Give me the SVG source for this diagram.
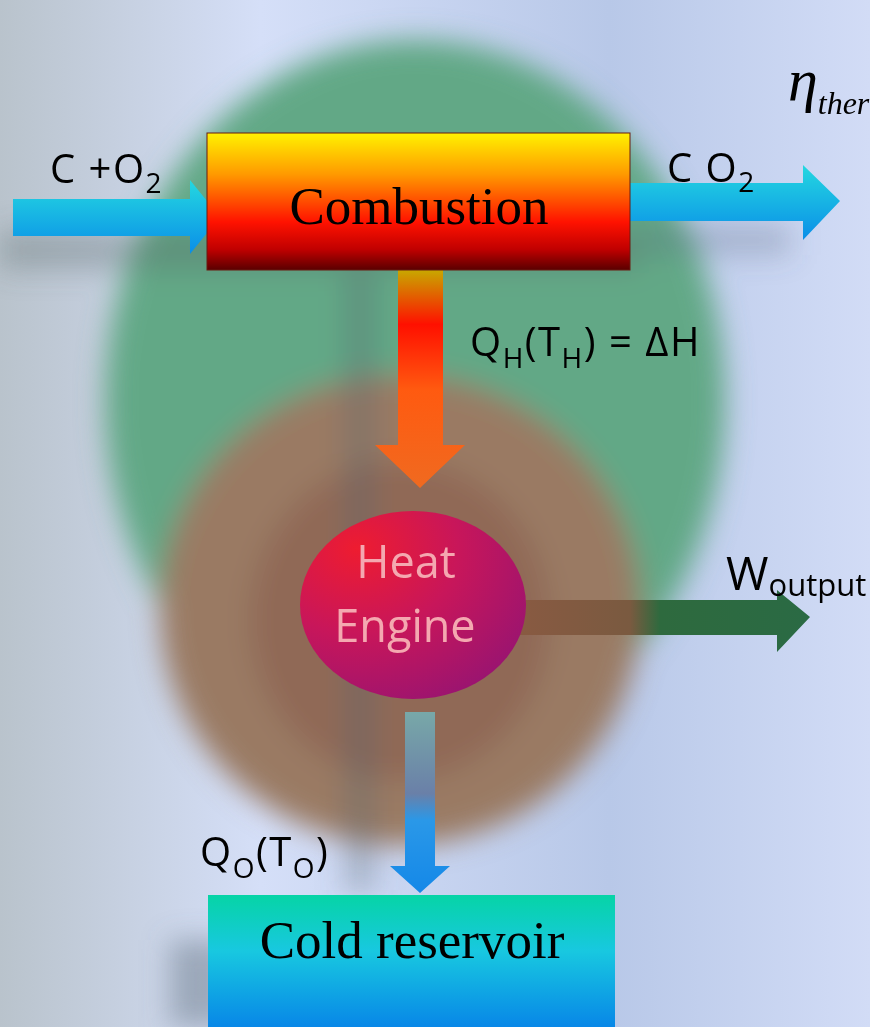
<svg xmlns="http://www.w3.org/2000/svg" width="870" height="1027" viewBox="0 0 870 1027">
<defs>
<linearGradient id="bg" x1="0" y1="0" x2="1" y2="0">
<stop offset="0" stop-color="#b9c3cc"/>
<stop offset="0.3" stop-color="#d5dff8"/>
<stop offset="0.7" stop-color="#b8c8e8"/>
<stop offset="1" stop-color="#d2dcf6"/>
</linearGradient>
<filter id="blur40" x="-50%" y="-50%" width="200%" height="200%"><feGaussianBlur stdDeviation="14"/></filter>
<linearGradient id="comb" x1="0" y1="0" x2="0" y2="1">
<stop offset="0" stop-color="#fff200"/>
<stop offset="0.3" stop-color="#ff9a00"/>
<stop offset="0.65" stop-color="#ff1200"/>
<stop offset="0.85" stop-color="#c00000"/>
<stop offset="1" stop-color="#5a0000"/>
</linearGradient>
<linearGradient id="cyan" x1="0" y1="0" x2="0" y2="1">
<stop offset="0" stop-color="#24d8e0"/>
<stop offset="1" stop-color="#0a8ee8"/>
</linearGradient>
<linearGradient id="hot" x1="0" y1="0" x2="0" y2="1">
<stop offset="0" stop-color="#c8a800"/>
<stop offset="0.25" stop-color="#ff1000"/>
<stop offset="0.55" stop-color="#ff5a10"/>
<stop offset="1" stop-color="#f06a20"/>
</linearGradient>
<linearGradient id="cold" x1="0" y1="0" x2="0" y2="1">
<stop offset="0" stop-color="#78a8a8"/>
<stop offset="0.45" stop-color="#6a80a8"/>
<stop offset="0.6" stop-color="#2a98e8"/>
<stop offset="1" stop-color="#1488e8"/>
</linearGradient>
<linearGradient id="work" x1="0" y1="0" x2="1" y2="0">
<stop offset="0" stop-color="#8a5a42"/>
<stop offset="0.4" stop-color="#7a5a40"/>
<stop offset="0.5" stop-color="#2e6a3e"/>
<stop offset="1" stop-color="#2a6a44"/>
</linearGradient>
<linearGradient id="res" x1="0" y1="0" x2="0" y2="1">
<stop offset="0" stop-color="#06d4a6"/>
<stop offset="0.4" stop-color="#18c8e0"/>
<stop offset="1" stop-color="#0680e8"/>
</linearGradient>
<radialGradient id="eng" cx="0.25" cy="0.2" r="0.9">
<stop offset="0" stop-color="#ee1c30"/>
<stop offset="0.5" stop-color="#c8165a"/>
<stop offset="1" stop-color="#9a1470"/>
</radialGradient>
<style>
.sans{font-family:"Open Sans","Noto Sans","Liberation Sans",sans-serif;fill:#000;letter-spacing:1.5px}
.serif{font-family:"Liberation Serif","Times New Roman",serif;fill:#000}
</style>
</defs>
<rect width="870" height="1027" fill="url(#bg)"/>
<g id="background" filter="url(#blur40)">
<ellipse cx="415" cy="400" rx="310" ry="360" fill="#62a886"/>
<ellipse cx="400" cy="610" rx="240" ry="235" fill="#9a7a64"/>
<ellipse cx="400" cy="620" rx="150" ry="160" fill="#8a5e4e" opacity="0.6"/>
<rect x="345" y="270" width="30" height="620" fill="#5a6870" opacity="0.35"/>
<rect x="0" y="230" width="640" height="40" fill="#5a6a6a" opacity="0.35"/>
<rect x="640" y="225" width="150" height="30" fill="#5a6a80" opacity="0.3"/>
<rect x="170" y="940" width="60" height="87" fill="#6a7888" opacity="0.5"/>
</g>
<g id="connectors">
<path d="M13,199 H190 V180 L220,217 L190,254 V236 H13 Z" fill="url(#cyan)"/>
<path d="M628,183 H803 V165 L840,201 L803,240 V221 H628 Z" fill="url(#cyan)"/>
<path d="M398,270 H443 V445 H465 L420,488 L375,445 H398 Z" fill="url(#hot)"/>
<path d="M510,600 H777 V590 L810,617 L777,652 V635 H510 Z" fill="url(#work)"/>
<path d="M405,712 H435 V866 H450 L420,893 L390,866 H405 Z" fill="url(#cold)"/>
</g>
<g id="combustion">
<rect x="207" y="133" width="423" height="137" fill="url(#comb)" stroke="#6a1a10" stroke-width="1"/>
<text x="419" y="224" class="serif" font-size="53" text-anchor="middle">Combustion</text>
</g>
<g id="heat-engine">
<ellipse cx="413" cy="605" rx="113" ry="94" fill="url(#eng)"/>
<text x="406" y="578" font-family="'Open Sans','Noto Sans','Liberation Sans',sans-serif" font-size="45" fill="#f4a8b0" text-anchor="middle">Heat</text>
<text x="405" y="642" font-family="'Open Sans','Noto Sans','Liberation Sans',sans-serif" font-size="45" fill="#f4a8b0" text-anchor="middle">Engine</text>
</g>
<g id="cold-reservoir">
<rect x="208" y="895" width="407" height="140" fill="url(#res)"/>
<text x="412" y="958" class="serif" font-size="53" text-anchor="middle">Cold reservoir</text>
</g>
<g id="labels">
<text x="50" y="183" class="sans" font-size="40">C +O<tspan font-size="28" dy="10">2</tspan></text>
<text x="667" y="182" class="sans" font-size="40">C O<tspan font-size="28" dy="10">2</tspan></text>
<text x="470" y="356" class="sans" font-size="40">Q<tspan font-size="28" dy="12">H</tspan><tspan dy="-12">(T</tspan><tspan font-size="28" dy="12">H</tspan><tspan dy="-12">) = ΔH</tspan></text>
<text x="726" y="590" class="sans" font-size="46" style="letter-spacing:0">W<tspan font-size="31" dy="6">output</tspan></text>
<text x="200" y="866" class="sans" font-size="40">Q<tspan font-size="28" dy="12">O</tspan><tspan dy="-12">(T</tspan><tspan font-size="28" dy="12">O</tspan><tspan dy="-12">)</tspan></text>
<text x="788" y="100" class="serif" font-size="60" font-style="italic">η<tspan font-size="32" dy="14">ther</tspan></text>
</g>
</svg>
